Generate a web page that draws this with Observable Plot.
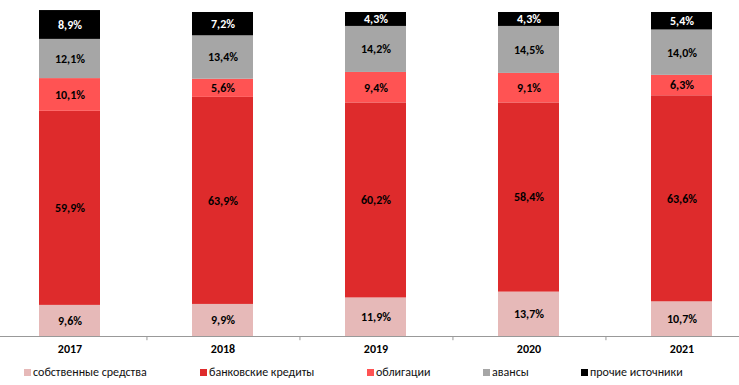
<!DOCTYPE html>
<html><head><meta charset="utf-8">
<script src="https://cdn.jsdelivr.net/npm/d3@7"></script>
<script src="https://cdn.jsdelivr.net/npm/@observablehq/plot@0.6"></script>
<style>
body{margin:0;background:#fff;}
#wrap{position:relative;width:739px;height:385px;font-family:Carlito,Calibri,"Liberation Sans",Arial,sans-serif;}
#legend{position:absolute;left:0;top:364px;width:739px;height:16px;font-size:12px;color:#111;}
.li{position:absolute;top:0;display:flex;align-items:center;white-space:nowrap;line-height:16px;}
.sw{width:7px;height:7px;margin-right:2px;display:inline-block;}
</style></head>
<body><div id="wrap"><div id="chart"></div><div id="legend"></div></div>
<script>
const years = ["2017","2018","2019","2020","2021"];
const seriesNames = ["собственные средства","банковские кредиты","облигации","авансы","прочие источники"];
const seriesColors = ["#E6B9B8","#DE2B2C","#FF5353","#A6A6A6","#000000"];
const own     = [9.6, 9.9, 11.9, 13.7, 10.7];
const loans   = [59.9, 63.9, 60.2, 58.4, 63.6];
const bonds   = [10.1, 5.6, 9.4, 9.1, 6.3];
const advances= [12.1, 13.4, 14.2, 14.5, 14.0];
const other   = [8.9, 7.2, 4.3, 4.3, 5.4];
const legendX = [24, 200, 367, 483, 581];

const valuesBySeries = [own, loans, bonds, advances, other];
const data = [];
seriesNames.forEach((s, i) => years.forEach((y, j) => data.push({year: y, series: s, value: valuesBySeries[i][j]})));
const fmt = v => v.toFixed(1).replace(".", ",") + "%";

const xRange = [-9.4, 760.1];
const step = (xRange[1] - xRange[0]) / years.length;

const chart = Plot.plot({
  width: 739, height: 360,
  marginLeft: 0, marginRight: 0, marginTop: 12, marginBottom: 24,
  style: {fontFamily: "Carlito, Calibri, 'Liberation Sans', Arial, sans-serif", fontSize: "12px"},
  x: {type: "band", domain: years, range: xRange, paddingInner: 0.6, paddingOuter: 0.3, label: null},
  y: {domain: [0, 100], axis: null},
  color: {domain: seriesNames, range: seriesColors},
  marks: [
    Plot.barY(data, {x: "year", y: "value", z: "series", fill: "series", order: seriesNames}),
    Plot.text(data, Plot.stackY({x: "year", y: "value", z: "series", order: seriesNames,
      text: d => fmt(d.value), fontWeight: "bold", fontSize: 12,
      fill: d => d.series === "прочие источники" ? "#fff" : "#000"})),
    Plot.ruleY([0], {stroke: "#999"}),
    Plot.ruleX(years, {x: d => d, dx: step / 2, y1: 0, y2: -1.3, stroke: "#999"}),
    Plot.axisX({tickSize: 0, tickPadding: 8, fontWeight: "bold", fontSize: 12, fill: "#000", label: null})
  ]
});
document.getElementById("chart").appendChild(chart);

const leg = document.getElementById("legend");
seriesNames.forEach((s, i) => {
  const d = document.createElement("div");
  d.className = "li";
  d.style.left = legendX[i] + "px";
  d.innerHTML = `<span class="sw" style="background:${seriesColors[i]}"></span><span>${s}</span>`;
  leg.appendChild(d);
});
</script></body></html>
